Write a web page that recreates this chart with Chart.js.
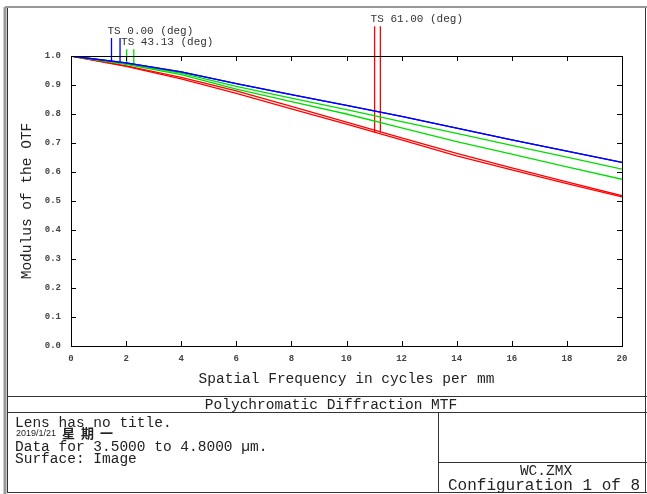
<!DOCTYPE html>
<html>
<head>
<meta charset="utf-8">
<script src="https://cdn.jsdelivr.net/npm/chart.js@4/dist/chart.umd.min.js"></script>
<style>
  body { margin: 0; background: #fff; }
  canvas { display: block; }
</style>
</head>
<body>
<canvas id="canvas" width="647" height="494"></canvas>
<script>
// spatial frequency (cycles/mm) and MTF
const freqs = [0, 2, 4, 6, 8, 10, 12, 14, 16, 18, 20];
const mtf0T = [1.0, 0.976, 0.945, 0.905, 0.867, 0.83, 0.792, 0.751, 0.711, 0.672, 0.633];
const mtf0S = [1.0, 0.976, 0.945, 0.905, 0.867, 0.83, 0.792, 0.751, 0.711, 0.672, 0.633];
const mtf43T = [1.0, 0.973, 0.941, 0.895, 0.855, 0.815, 0.774, 0.733, 0.692, 0.651, 0.61];
const mtf43S = [1.0, 0.971, 0.936, 0.886, 0.843, 0.8, 0.752, 0.705, 0.662, 0.618, 0.575];
const mtf61T = [1.0, 0.966, 0.926, 0.88, 0.826, 0.772, 0.718, 0.664, 0.614, 0.566, 0.518];
const mtf61S = [1.0, 0.964, 0.921, 0.871, 0.818, 0.765, 0.711, 0.656, 0.607, 0.56, 0.514];

// field markers: x position, top of the stick, where it meets the curve
const markerFreqs = [1.47, 1.78, 2.02, 2.28, 11.02, 11.23];
const markerTops = [1.062, 1.062, 1.023, 1.023, 1.103, 1.103];
const markerEnds = [0.98, 0.98, 0.972, 0.972, 0.736, 0.736];
const fieldLabels = ["TS 0.00 (deg)", "TS 43.13 (deg)", "TS 61.00 (deg)"];
const fieldLabelAt = [[1.47, 1.086], [1.78, 1.048], [11.02, 1.128]];

const xTicks = [0, 2, 4, 6, 8, 10, 12, 14, 16, 18, 20];
const yTicks = [0, 0.1, 0.2, 0.3, 0.4, 0.5, 0.6, 0.7, 0.8, 0.9, 1.0];

const BLUE = "#0000ff";
const GREEN = "#00dd00";
const RED = "#ff0000";
const MONO = "'Liberation Mono', 'DejaVu Sans Mono', monospace";

const toPoints = (ys) => freqs.map((f, i) => ({ x: f, y: ys[i] }));

const curve = (data, color) => ({
  data: toPoints(data),
  borderColor: color,
  borderWidth: 1.3,
  pointRadius: 0,
  tension: 0,
  fill: false,
});

const markerColors = [BLUE, BLUE, GREEN, GREEN, RED, RED];
const markers = markerFreqs.map((f, i) => ({
  data: [
    { x: f, y: markerTops[i] },
    { x: f, y: markerEnds[i] },
  ],
  borderColor: markerColors[i],
  borderWidth: 1.3,
  pointRadius: 0,
  clip: false,
}));

const text = (ctx, str, x, y, font, align = "left", color = "#222") => {
  ctx.font = font;
  ctx.fillStyle = color;
  ctx.textAlign = align;
  ctx.textBaseline = "middle";
  ctx.fillText(str, x, y);
};

const line = (ctx, x1, y1, x2, y2, color = "#000", w = 1) => {
  ctx.strokeStyle = color;
  ctx.lineWidth = w;
  ctx.beginPath();
  ctx.moveTo(x1, y1);
  ctx.lineTo(x2, y2);
  ctx.stroke();
};

// zemax style frame, inward ticks and all the captions
const zemaxFrame = {
  id: "zemaxFrame",
  afterDraw(chart) {
    const ctx = chart.ctx;
    const a = chart.chartArea;
    const xs = chart.scales.x;
    const ys = chart.scales.y;
    ctx.save();

    // plot box top/right + inward ticks
    line(ctx, a.left, a.top + 0.5, a.right, a.top + 0.5);
    line(ctx, a.right + 0.5, a.top, a.right + 0.5, a.bottom);
    xTicks.forEach((v) => {
      const px = Math.round(xs.getPixelForValue(v)) + 0.5;
      line(ctx, px, a.bottom, px, a.bottom - 5);
      line(ctx, px, a.top, px, a.top + 5);
    });
    yTicks.forEach((v) => {
      const py = Math.round(ys.getPixelForValue(v)) + 0.5;
      line(ctx, a.left, py, a.left + 5, py);
      line(ctx, a.right, py, a.right - 5, py);
    });

    // field labels
    fieldLabels.forEach((s, i) => {
      const [fx, fy] = fieldLabelAt[i];
      let px = xs.getPixelForValue(fx) - 4;
      if (i == 1) px = xs.getPixelForValue(fx) + 1;
      text(ctx, s, px, ys.getPixelForValue(fy), "11px " + MONO, "left", "#333");
    });

    // axis titles
    text(ctx, "Spatial Frequency in cycles per mm", (a.left + a.right) / 2, 379, "14.5px " + MONO, "center");
    ctx.save();
    ctx.translate(27, (a.top + a.bottom) / 2);
    ctx.rotate(-Math.PI / 2);
    text(ctx, "Modulus of the OTF", 0, 0, "14.5px " + MONO, "center");
    ctx.restore();

    // outer window frame and info boxes
    line(ctx, 5, 7, 5, 494, "#999", 3);
    line(ctx, 5, 7, 647, 7, "#999", 2);
    line(ctx, 7.5, 8, 7.5, 492.5, "#333");
    line(ctx, 645.5, 8, 645.5, 492.5, "#333");
    line(ctx, 7, 492.5, 647, 492.5, "#333");
    line(ctx, 7, 396.5, 647, 396.5, "#333");
    line(ctx, 7, 412.5, 647, 412.5, "#333");
    line(ctx, 438.5, 412, 438.5, 493, "#333");
    line(ctx, 438, 462.5, 647, 462.5, "#333");

    text(ctx, "Polychromatic Diffraction MTF", 331, 405, "14.5px " + MONO, "center");
    text(ctx, "Lens has no title.", 15, 423, "14.5px " + MONO);
    text(ctx, "2019/1/21", 16, 434, "9px 'Liberation Sans', sans-serif");
    ["星", "期", "一"].forEach((c, i) => {
      text(ctx, c, 62 + i * 19, 433, "bold 13px 'Noto Sans CJK SC'");
    });
    text(ctx, "Data for 3.5000 to 4.8000 µm.", 15, 447, "14.5px " + MONO);
    text(ctx, "Surface: Image", 15, 459, "14.5px " + MONO);
    text(ctx, "WC.ZMX", 546, 471, "14.5px " + MONO, "center");
    text(ctx, "Configuration 1 of 8", 448, 486, "16px " + MONO);

    ctx.restore();
  },
};

const ctx = document.getElementById("canvas");

new Chart(ctx, {
  type: "line",
  data: {
    datasets: [
      curve(mtf0T, BLUE),
      curve(mtf0S, BLUE),
      curve(mtf43T, GREEN),
      curve(mtf43S, GREEN),
      curve(mtf61T, RED),
      curve(mtf61S, RED),
      ...markers,
    ],
  },
  options: {
    responsive: false,
    animation: false,
    devicePixelRatio: 1,
    layout: { padding: { left: 0, top: 56, right: 25, bottom: 0 } },
    plugins: {
      legend: { display: false },
      tooltip: { enabled: false },
    },
    scales: {
      x: {
        type: "linear",
        min: 0,
        max: 20,
        afterFit: (s) => {
          s.height = 148;
        },
        afterBuildTicks: (s) => {
          s.ticks = xTicks.map((v) => ({ value: v }));
        },
        grid: { display: false, drawTicks: false },
        border: { display: true, color: "#000", width: 1 },
        ticks: {
          padding: 7,
          color: "#444",
          font: { family: MONO, size: 9, weight: "bold" },
          maxRotation: 0,
          callback: (v) => String(v),
        },
      },
      y: {
        min: 0,
        max: 1,
        afterFit: (s) => {
          s.width = 71;
        },
        afterBuildTicks: (s) => {
          s.ticks = yTicks.map((v) => ({ value: v }));
        },
        grid: { display: false, drawTicks: false },
        border: { display: true, color: "#000", width: 1 },
        ticks: {
          padding: 10,
          color: "#444",
          font: { family: MONO, size: 9, weight: "bold" },
          callback: (v) => v.toFixed(1),
        },
      },
    },
  },
  plugins: [zemaxFrame],
});
</script>
</body>
</html>
